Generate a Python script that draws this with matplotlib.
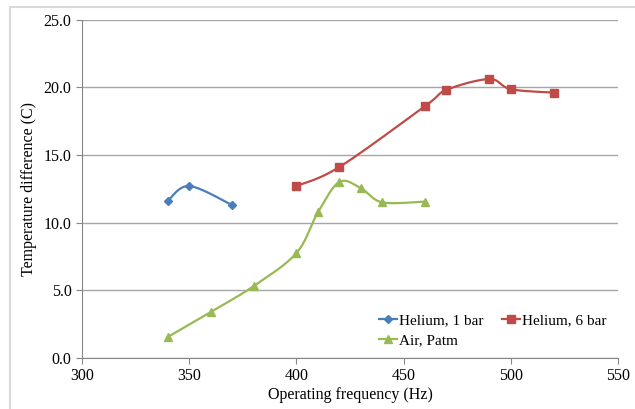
import numpy as np
import matplotlib.pyplot as plt
from matplotlib.patches import Rectangle

plt.rcParams['font.family'] = ['Liberation Serif', 'DejaVu Serif']

# data
he1_freq = [340, 350, 370]
he1_dt = [11.6, 12.7, 11.3]

he6_freq = [400, 420, 460, 470, 490, 500, 520]
he6_dt = [12.7, 14.1, 18.6, 19.8, 20.6, 19.85, 19.6]

air_freq = [340, 360, 380, 400, 410, 420, 430, 440, 460]
air_dt = [1.55, 3.4, 5.3, 7.75, 10.75, 13.0, 12.55, 11.5, 11.55]

x_ticks = [300, 350, 400, 450, 500, 550]
y_ticks = [0, 5, 10, 15, 20, 25]


def smooth(x, y, n=30):
    # Excel-like smoothed line (cubic Bezier through points)
    x = np.asarray(x, float)
    y = np.asarray(y, float)
    pts = np.column_stack([x, y])
    out = [pts[0]]
    for i in range(len(pts) - 1):
        p0 = pts[i - 1] if i > 0 else pts[i]
        p1 = pts[i]
        p2 = pts[i + 1]
        p3 = pts[i + 2] if i + 2 < len(pts) else pts[i + 1]
        c1 = p1 + (p2 - p0) / 6.0
        c2 = p2 - (p3 - p1) / 6.0
        t = np.linspace(0, 1, n)[1:, None]
        seg = ((1 - t) ** 3) * p1 + 3 * ((1 - t) ** 2) * t * c1 + 3 * (1 - t) * t ** 2 * c2 + t ** 3 * p2
        out.extend(seg)
    out = np.array(out)
    return out[:, 0], out[:, 1]


fig = plt.figure(figsize=(6.35, 4.09), dpi=100)
ax = fig.add_axes([82 / 635, 1 - 358 / 409, 536 / 635, 338.5 / 409])

# outer chart border
fig.patches.append(Rectangle((10 / 635, -0.05), 1.2, (409 - 7) / 409 + 0.05,
                             transform=fig.transFigure, fill=False,
                             edgecolor='#d9d9d9', linewidth=1.5))

series = [
    (he1_freq, he1_dt, '#4A7EBB', 'D', 4.5, 'Helium, 1 bar'),
    (he6_freq, he6_dt, '#BE4B48', 's', 6, 'Helium, 6 bar'),
    (air_freq, air_dt, '#98B954', '^', 6, 'Air, Patm'),
]
handles = {}
for fx, dy, col, mk, ms, lab in series:
    sx, sy = smooth(fx, dy)
    ax.plot(sx, sy, color=col, linewidth=1.6, zorder=3)
    ax.plot(fx, dy, linestyle='none', marker=mk, markersize=ms, color=col, zorder=4)
    h, = ax.plot([], [], color=col, marker=mk, markersize=ms, linewidth=1.6, label=lab)
    handles[lab] = h

ax.set_xlim(300, 550)
ax.set_ylim(0, 25)
ax.set_xticks(x_ticks)
ax.set_yticks(y_ticks)
ax.set_yticklabels(['%.1f' % v for v in y_ticks])
ax.yaxis.grid(True, color='#a6a6a6', linewidth=1)
ax.set_axisbelow(True)
for s in ['top', 'right']:
    ax.spines[s].set_visible(False)
for s in ['left', 'bottom']:
    ax.spines[s].set_color('#868686')
ax.tick_params(axis='both', colors='#868686', labelcolor='black', labelsize=11.5,
               direction='out', length=4)

ax.set_xlabel('Operating frequency (Hz)', fontsize=11.5, labelpad=2)
ax.set_ylabel('Temperature difference (C)', fontsize=11.5, labelpad=5)

# row-major order like the original: he1, he6 on first row, air below
order = ['Helium, 1 bar', 'Air, Patm', 'Helium, 6 bar']
ax.legend([handles[k] for k in order], order, loc='upper left',
          bbox_to_anchor=(0.54, 0.155), ncol=2, frameon=False, borderpad=0,
          fontsize=11, handlelength=1.2, handletextpad=0.1, columnspacing=1.2,
          labelspacing=0.45)

fig.savefig('out.png', dpi=100)
